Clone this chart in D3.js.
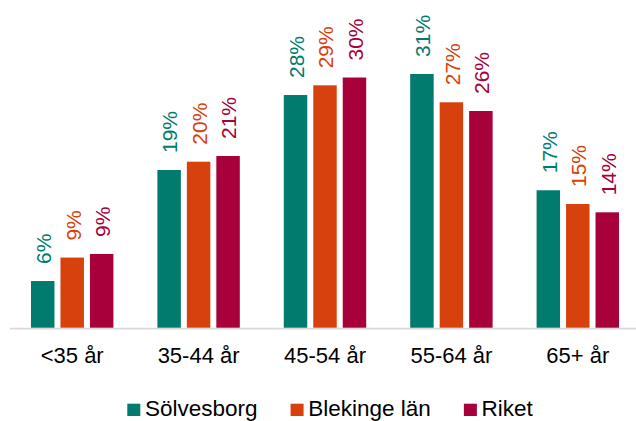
<!DOCTYPE html>
<html>
<head>
<meta charset="utf-8">
<script src="https://cdn.jsdelivr.net/npm/d3@7"></script>
<style>
  html, body { margin: 0; padding: 0; background: #fff; }
  text { font-family: Arial, "Liberation Sans", sans-serif; }
</style>
</head>
<body>
<svg id="chart" width="636" height="421"></svg>
<script>
const categories = ["<35 år", "35-44 år", "45-54 år", "55-64 år", "65+ år"];
const seriesNames = ["Sölvesborg", "Blekinge län", "Riket"];
const solvesborg = [5.67, 19.16, 28.27, 30.83, 16.7];
const blekinge = [8.52, 20.17, 29.45, 27.39, 15.03];
const riket = [8.96, 20.86, 30.4, 26.33, 14.02];
const colors = ["#007B6E", "#D7410E", "#A7003B"];

const series = [solvesborg, blekinge, riket];
const svg = d3.select("#chart");

const baseY = 327.7;
const x0 = d3.scaleBand().domain(categories).range([9, 641]).paddingInner(0.348).paddingOuter(0.174);
const x1 = d3.scaleBand().domain(seriesNames).range([0, x0.bandwidth()]).paddingInner(0.2034).paddingOuter(0);
const y = d3.scaleLinear().domain([0, 35]).range([baseY, baseY - 35 * 8.23]);

const data = [];
categories.forEach((c, i) => {
  seriesNames.forEach((s, j) => {
    data.push({ cat: c, ser: s, val: series[j][i], color: colors[j] });
  });
});

// axis baseline
svg.append("line")
  .attr("x1", 10).attr("x2", 636)
  .attr("y1", baseY + 0.9).attr("y2", baseY + 0.9)
  .attr("stroke", "#d9d9d9").attr("stroke-width", 1.8);

// bars
svg.append("g").selectAll("rect").data(data).join("rect")
  .attr("x", d => x0(d.cat) + x1(d.ser))
  .attr("y", d => y(d.val))
  .attr("width", x1.bandwidth())
  .attr("height", d => baseY - y(d.val))
  .attr("fill", d => d.color);

// value labels
const fmt = d => d3.format(".0f")(d) + "%";
svg.append("g").selectAll("text").data(data).join("text")
  .attr("transform", d => `translate(${x0(d.cat) + x1(d.ser) + x1.bandwidth() / 2 + 1}, ${y(d.val) - 17}) rotate(-90)`)
  .attr("dy", "0.35em")
  .attr("font-size", 21)
  .attr("fill", d => d.color)
  .text(d => fmt(d.val));

// category axis
const xAxis = d3.axisBottom(x0).tickSize(0).tickPadding(0);
const ax = svg.append("g").attr("transform", `translate(0, ${baseY})`).call(xAxis);
ax.select(".domain").remove();
ax.selectAll("text")
  .attr("y", 35.8).attr("dy", 0)
  .attr("font-size", 22)
  .attr("fill", "#000")
  .style("font-family", "Arial, 'Liberation Sans', sans-serif");

// legend
const legend = svg.append("g");
let lx = 127.3;
seriesNames.forEach((s, j) => {
  legend.append("rect").attr("x", lx).attr("y", 403.7).attr("width", 13).attr("height", 12.3).attr("fill", colors[j]);
  const t = legend.append("text").attr("x", lx + 17.7).attr("y", 416)
    .attr("font-size", 22.5).attr("fill", "#000").text(s);
  lx = lx + 17.7 + t.node().getComputedTextLength() + 33;
});
</script>
</body>
</html>
